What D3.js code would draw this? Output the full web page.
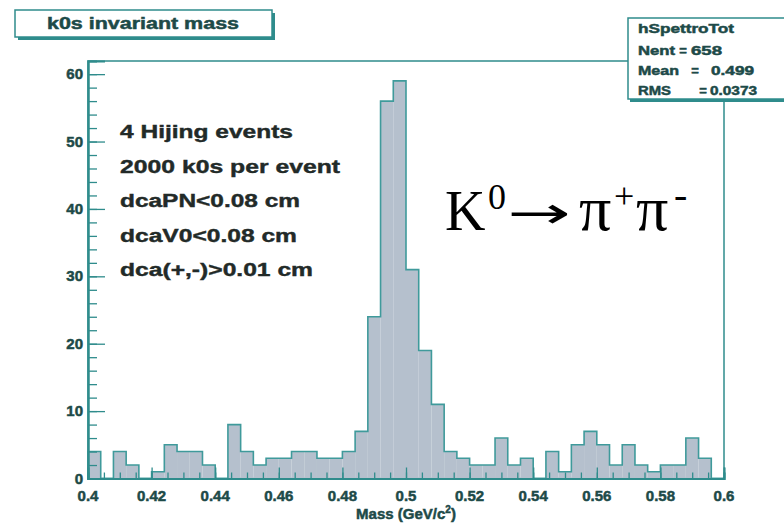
<!DOCTYPE html>
<html>
<head>
<meta charset="utf-8">
<script src="https://cdn.jsdelivr.net/npm/d3@7"></script>
<style>
  html, body { margin: 0; padding: 0; background: #ffffff; }
  svg { display: block; }
</style>
</head>
<body>
<svg id="chart" width="784" height="523"></svg>
<script>
// ---- data ----
const binStart = 0.4;
const binWidth = 0.004;
const counts = [4, 0, 4, 2, 0, 1, 5, 4, 4, 2,
                0, 8, 4, 2, 3, 3, 4, 4, 3, 3,
                4, 7, 24, 56, 59, 31, 19, 11, 4, 3,
                2, 2, 6, 2, 3, 0, 4, 1, 5, 7,
                5, 2, 5, 2, 1, 2, 2, 6, 3, 0];
const xTickValues = [0.4, 0.42, 0.44, 0.46, 0.48, 0.5, 0.52, 0.54, 0.56, 0.58, 0.6];
const xTickLabels = ["0.4", "0.42", "0.44", "0.46", "0.48", "0.5", "0.52", "0.54", "0.56", "0.58", "0.6"];
const yTickValues = [0, 10, 20, 30, 40, 50, 60];
const yTickLabels = ["0", "10", "20", "30", "40", "50", "60"];
const titleText = "k0s invariant mass";
const statsName = "hSpettroTot";
const statsLabels = ["Nent", "Mean", "RMS"];
const statsValues = ["658", "0.499", "0.0373"];
const noteLines = ["4 Hijing events", "2000 k0s per event", "dcaPN<0.08 cm", "dcaV0<0.08 cm", "dca(+,-)>0.01 cm"];
const xDomain = [0.4, 0.6];
const yMax = 61.95;

// ---- styles ----
const lineCol = "#2f8c8c";
const textCol = "#1d4a48";
const barFill = "#b5c0cd";
const barStroke = "#3f9a9b";
const font = "'Liberation Sans', Arial, Helvetica, sans-serif";
const serif = "'Liberation Serif', 'Times New Roman', serif";

const svg = d3.select("#chart");
const L = 88, R = 724, T = 61, B = 478.5;

const x = d3.scaleLinear().domain(xDomain).range([L, R]);
const y = d3.scaleLinear().domain([0, yMax]).range([B, T]);

const bins = counts.map((c, i) => ({ x0: binStart + i * binWidth, x1: binStart + (i + 1) * binWidth, c }));

// frame
svg.append("rect").attr("x", L).attr("y", T).attr("width", R - L).attr("height", B - T)
  .attr("fill", "#ffffff").attr("stroke", lineCol).attr("stroke-width", 1.5);

// bars (fill)
svg.append("g").selectAll("rect").data(bins).join("rect")
  .attr("x", d => x(d.x0))
  .attr("y", d => y(d.c))
  .attr("width", d => x(d.x1) - x(d.x0))
  .attr("height", d => y(0) - y(d.c))
  .attr("fill", barFill);

// outline as step
const stepPts = [];
bins.forEach(d => { stepPts.push([d.x0, d.c]); });
stepPts.push([bins[bins.length - 1].x1, bins[bins.length - 1].c]);
const outline = [[bins[0].x0, 0], ...stepPts, [bins[bins.length - 1].x1, 0]];
svg.append("path")
  .attr("d", d3.line().x(d => x(d[0])).y(d => y(d[1])).curve(d3.curveStepAfter)(outline))
  .attr("fill", "none").attr("stroke", barStroke).attr("stroke-width", 1.6);

// x axis (ticks pointing up inside the frame)
const xMinor = d3.range(0.4, 0.6001, 0.005);
const gx = svg.append("g").attr("transform", `translate(0,${B})`);
gx.append("g").call(d3.axisTop(x).tickValues(xMinor).tickSize(6).tickFormat(""));
gx.append("g").call(d3.axisTop(x).tickValues(xTickValues).tickSize(11).tickFormat(""));
gx.selectAll("path.domain").attr("stroke", lineCol).attr("stroke-width", 2);
gx.selectAll(".tick line").attr("stroke", lineCol).attr("stroke-width", 1.3);

const heavy = sel => sel.attr("stroke", textCol).attr("stroke-width", 0.5);

heavy(svg.append("g").selectAll("text").data(xTickValues).join("text")
  .attr("x", d => x(d)).attr("y", 501)
  .attr("text-anchor", "middle")
  .attr("font-family", font).attr("font-weight", "bold").attr("font-size", 15)
  .attr("fill", textCol)
  .text((d, i) => xTickLabels[i]));

// y axis (ticks pointing right inside the frame)
const yMinor = d3.range(0, 61, 2);
const gy = svg.append("g").attr("transform", `translate(${L},0)`);
gy.append("g").call(d3.axisRight(y).tickValues(yMinor).tickSize(9).tickFormat(""));
gy.append("g").call(d3.axisRight(y).tickValues(yTickValues).tickSize(17).tickFormat(""));
gy.selectAll("path.domain").attr("stroke", lineCol).attr("stroke-width", 2);
gy.selectAll(".tick line").attr("stroke", lineCol).attr("stroke-width", 1.3);

heavy(svg.append("g").selectAll("text").data(yTickValues).join("text")
  .attr("x", 83).attr("y", d => y(d) + 5)
  .attr("text-anchor", "end")
  .attr("font-family", font).attr("font-weight", "bold").attr("font-size", 15)
  .attr("fill", textCol)
  .text((d, i) => yTickLabels[i]));

// axis title
const xt = svg.append("text").attr("x", 406).attr("y", 519).attr("text-anchor", "middle")
  .attr("font-family", font).attr("font-weight", "bold").attr("font-size", 15).attr("fill", textCol);
heavy(xt);
xt.append("tspan").text("Mass (GeV/c");
xt.append("tspan").attr("dy", -6).attr("font-size", 10).text("2");
xt.append("tspan").attr("dy", 6).text(")");

// title box
svg.append("rect").attr("x", 18).attr("y", 13).attr("width", 257).attr("height", 27).attr("fill", lineCol);
svg.append("rect").attr("x", 15).attr("y", 10).attr("width", 257).attr("height", 27)
  .attr("fill", "#ffffff").attr("stroke", lineCol).attr("stroke-width", 1.5);
heavy(svg.append("text").attr("x", 143).attr("y", 29).attr("text-anchor", "middle")
  .attr("font-family", font).attr("font-weight", "bold").attr("font-size", 17)
  .attr("fill", textCol).attr("textLength", 192).attr("lengthAdjust", "spacingAndGlyphs")
  .text(titleText));

// stats box
svg.append("rect").attr("x", 630).attr("y", 21).attr("width", 160).attr("height", 81).attr("fill", lineCol);
svg.append("rect").attr("x", 628).attr("y", 18).attr("width", 160).attr("height", 81)
  .attr("fill", "#ffffff").attr("stroke", lineCol).attr("stroke-width", 1.5);
const st = svg.append("g").attr("font-family", font).attr("font-weight", "bold").attr("font-size", 13)
  .attr("fill", textCol).attr("stroke", textCol).attr("stroke-width", 0.5);
st.append("text").attr("x", 638).attr("y", 33).attr("textLength", 96).attr("lengthAdjust", "spacingAndGlyphs").text(statsName);
const labW = [37, 41, 33];
const eqX = [683, 695, 703];
const valEnd = [722, 754, 757];
const valW = [31, 43, 47];
statsLabels.forEach((lab, i) => {
  const yy = 55 + i * 20;
  st.append("text").attr("x", 638).attr("y", yy).attr("textLength", labW[i]).attr("lengthAdjust", "spacingAndGlyphs").text(lab);
  st.append("text").attr("x", eqX[i]).attr("y", yy).attr("text-anchor", "middle").text("=");
  st.append("text").attr("x", valEnd[i] - valW[i]).attr("y", yy).attr("textLength", valW[i]).attr("lengthAdjust", "spacingAndGlyphs").text(statsValues[i]);
});

// annotation lines
const noteW = [173, 220, 180, 177, 193];
svg.append("g").selectAll("text").data(noteLines).join("text")
  .attr("x", 120).attr("y", (d, i) => 138 + i * 34.5)
  .attr("font-family", font).attr("font-weight", "bold").attr("font-size", 18)
  .attr("fill", "#222a28").attr("stroke", "#222a28").attr("stroke-width", 0.4)
  .attr("textLength", (d, i) => noteW[i]).attr("lengthAdjust", "spacingAndGlyphs")
  .text(d => d);

// physics label  K0 -> pi+ pi-
const kg = svg.append("g").attr("fill", "#000000").attr("font-family", serif);
const baseY = 230;
kg.append("text").attr("x", 445).attr("y", baseY).attr("font-size", 56).text("K");
kg.append("text").attr("x", 488).attr("y", baseY - 21).attr("font-size", 36).text("0");
kg.append("text").attr("transform", `translate(507,${baseY - 2}) scale(1.72,1)`)
  .attr("font-family", "'DejaVu Sans', sans-serif").attr("font-size", 44).text("\u2192");
kg.append("text").attr("x", 579).attr("y", baseY).attr("font-size", 64).text("\u03C0");
kg.append("text").attr("x", 614).attr("y", baseY - 22).attr("font-size", 36).text("+");
kg.append("text").attr("x", 636).attr("y", baseY).attr("font-size", 64).text("\u03C0");
kg.append("text").attr("x", 674).attr("y", baseY - 22).attr("font-size", 40).text("-");
</script>
</body>
</html>
